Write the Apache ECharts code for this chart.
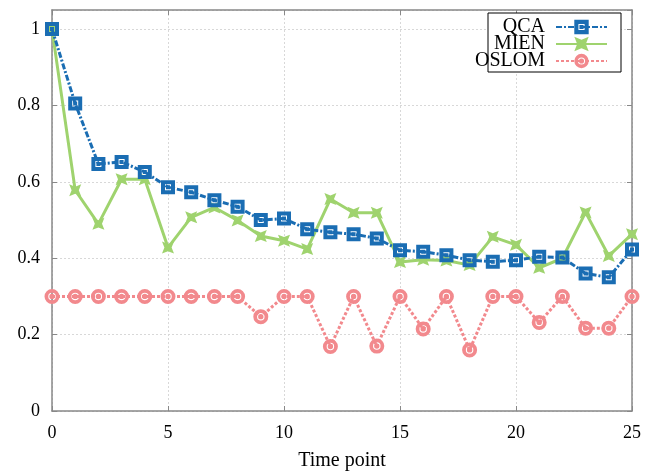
<!DOCTYPE html>
<html>
<head>
<meta charset="utf-8">
<script src="https://cdn.jsdelivr.net/npm/echarts@6/dist/echarts.min.js"></script>
<style>html,body{margin:0;padding:0;background:#fff}#c{width:645px;height:474px}</style>
</head>
<body>
<div id="c"></div>
<script>
const timePoints = [0,1,2,3,4,5,6,7,8,9,10,11,12,13,14,15,16,17,18,19,20,21,22,23,24,25];
const qca   = [1.0,0.805,0.647,0.652,0.626,0.586,0.573,0.552,0.535,0.500,0.504,0.476,0.468,0.463,0.452,0.421,0.417,0.408,0.395,0.391,0.395,0.404,0.402,0.360,0.350,0.423];
const mien  = [1.0,0.578,0.490,0.607,0.607,0.428,0.507,0.533,0.499,0.458,0.446,0.424,0.555,0.519,0.519,0.390,0.396,0.394,0.382,0.456,0.435,0.375,0.400,0.520,0.406,0.463];
const oslom = [0.30,0.30,0.30,0.30,0.30,0.30,0.30,0.30,0.30,0.247,0.30,0.30,0.169,0.30,0.170,0.30,0.215,0.30,0.160,0.30,0.30,0.232,0.30,0.217,0.217,0.30];
const seriesNames = ['QCA','MIEN','OSLOM'];
const xLabelText = 'Time point';

const pair = arr => arr.map((v,i)=>[timePoints[i], v]);
const serif = 'Liberation Serif, Times New Roman, serif';
const axisCol = '#888888';
const gridLine = {show:true, lineStyle:{color:'#d8d8d8', type:[2,2], width:1}};

const sqSym = 'path://M0,0H14V14H0Z M4,4V10H10V4Z M5,5H9V9H5Z';
const starSym = 'path://M0,0L5,2L10,0L8,5L10,10L5,8L0,10L2,5Z';
const circSym = 'path://M7,0A7,7,0,1,1,7,14A7,7,0,1,1,7,0Z M7,3.5A3.5,3.5,0,1,0,7,10.5A3.5,3.5,0,1,0,7,3.5Z M7,4.5A2.5,2.5,0,1,1,7,9.5A2.5,2.5,0,1,1,7,4.5Z';

const chart = echarts.init(document.getElementById('c'));
chart.setOption({
  animation:false,
  backgroundColor:'#fff',
  grid:{left:52, right:13, top:10, bottom:63, outerBoundsMode:'none', containLabel:false},
  graphic:[{type:'rect', z:50, shape:{x:488, y:13, width:133, height:59}, style:{fill:'#fff', stroke:'#000', lineWidth:1}}],
  legend:{
    z:60, right:37, top:17, orient:'vertical', align:'right', padding:0,
    itemWidth:51, itemHeight:18, itemGap:-3,
    textStyle:{fontFamily:serif, fontSize:20, color:'#000', lineHeight:18, padding:[0,6,0,0]},
    data:seriesNames
  },
  xAxis:[
    {type:'value', min:0, max:25, interval:5, position:'bottom',
     name:xLabelText, nameLocation:'middle', nameGap:40,
     nameTextStyle:{fontFamily:serif, fontSize:20, color:'#000'},
     axisLine:{onZero:false, lineStyle:{color:axisCol, width:1.5}},
     axisTick:{inside:true, length:5, lineStyle:{color:axisCol}},
     axisLabel:{fontFamily:serif, fontSize:18, color:'#000', margin:13},
     splitLine:gridLine},
    {type:'value', min:0, max:25, interval:5, position:'top',
     axisLine:{onZero:false, lineStyle:{color:axisCol, width:1.5}},
     axisTick:{inside:true, length:5, lineStyle:{color:axisCol}},
     axisLabel:{show:false}, splitLine:{show:false}}
  ],
  yAxis:[
    {type:'value', min:0, max:1.05, interval:0.2, position:'left',
     axisLine:{show:true, onZero:false, lineStyle:{color:axisCol, width:1.5}},
     axisTick:{show:true, inside:true, length:5, lineStyle:{color:axisCol}},
     axisLabel:{fontFamily:serif, fontSize:18, color:'#000', margin:12, showMaxLabel:false,
       formatter:v => (Math.abs(v*5 - Math.round(v*5))<1e-6) ? String(+v.toFixed(1)) : ''},
     splitLine:gridLine},
    {type:'value', min:0, max:1.05, interval:0.2, position:'right',
     axisLine:{show:true, onZero:false, lineStyle:{color:axisCol, width:1.5}},
     axisTick:{show:true, inside:true, length:5, lineStyle:{color:axisCol}},
     axisLabel:{show:false}, splitLine:{show:false}}
  ],
  series:[
    {name:'OSLOM', type:'line', data:pair(oslom), z:3,
     symbol:circSym, symbolSize:15, showAllSymbol:true,
     itemStyle:{color:'#f2898d'},
     lineStyle:{color:'#f2898d', width:3, type:[3,2]}},
    {name:'MIEN', type:'line', data:pair(mien), z:4,
     symbol:starSym, symbolSize:12, showAllSymbol:true,
     itemStyle:{color:'#9fd36e'},
     lineStyle:{color:'#9fd36e', width:3, type:'solid'}},
    {name:'QCA', type:'line', data:pair(qca), z:5,
     symbol:sqSym, symbolSize:14, showAllSymbol:true,
     itemStyle:{color:'#1a6db3'},
     lineStyle:{color:'#1a6db3', width:3, type:[6,2,2,2]}}
  ]
});
</script>
</body>
</html>
